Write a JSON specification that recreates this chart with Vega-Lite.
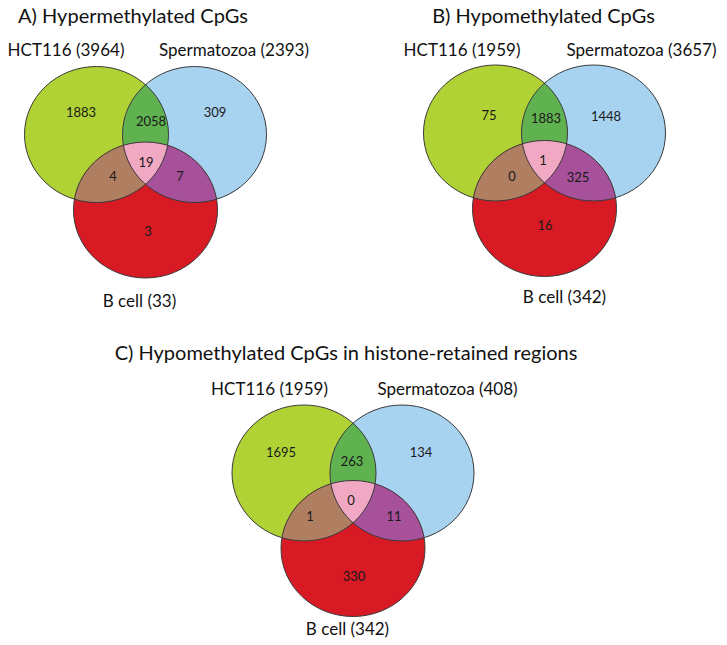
{
  "$schema": "https://vega.github.io/schema/vega-lite/v6.json",
  "width": 727,
  "height": 645,
  "autosize": {"type": "fit", "contains": "padding"},
  "padding": 0,
  "background": "white",
  "config": {"view": {"stroke": null}},
  "datasets": {
    "panels": [
      {"panel": "A", "title": "A) Hypermethylated CpGs", "ax": 145.5, "ay": 134.5, "tx": 133, "ty": 23},
      {"panel": "B", "title": "B) Hypomethylated CpGs", "ax": 544.5, "ay": 133, "tx": 543.5, "ty": 23},
      {"panel": "C", "title": "C) Hypomethylated CpGs in histone-retained regions", "ax": 353, "ay": 473, "tx": 346, "ty": 360}
    ],
    "sets": [
      {"panel": "A", "set": "HCT116", "total": 3964, "label": "HCT116 (3964)", "cx": 96.5, "cy": 134.5, "lx": 66, "ly": 56},
      {"panel": "A", "set": "Spermatozoa", "total": 2393, "label": "Spermatozoa (2393)", "cx": 194.5, "cy": 134.5, "lx": 234, "ly": 56},
      {"panel": "A", "set": "B cell", "total": 33, "label": "B cell (33)", "cx": 145.5, "cy": 210, "lx": 139.5, "ly": 307},
      {"panel": "B", "set": "HCT116", "total": 1959, "label": "HCT116 (1959)", "cx": 495.5, "cy": 133, "lx": 462, "ly": 56},
      {"panel": "B", "set": "Spermatozoa", "total": 3657, "label": "Spermatozoa (3657)", "cx": 593.5, "cy": 133, "lx": 641.5, "ly": 56},
      {"panel": "B", "set": "B cell", "total": 342, "label": "B cell (342)", "cx": 544.5, "cy": 208.5, "lx": 564.5, "ly": 303},
      {"panel": "C", "set": "HCT116", "total": 1959, "label": "HCT116 (1959)", "cx": 304, "cy": 473, "lx": 269.5, "ly": 395},
      {"panel": "C", "set": "Spermatozoa", "total": 408, "label": "Spermatozoa (408)", "cx": 402, "cy": 473, "lx": 447.5, "ly": 395},
      {"panel": "C", "set": "B cell", "total": 342, "label": "B cell (342)", "cx": 353, "cy": 548.5, "lx": 347.5, "ly": 635}
    ],
    "regions": [
      {"panel": "A", "region": "HCT116 only", "count": 1883, "x": 81, "y": 113},
      {"panel": "A", "region": "HCT116 & Spermatozoa", "count": 2058, "x": 151, "y": 122},
      {"panel": "A", "region": "Spermatozoa only", "count": 309, "x": 215, "y": 113},
      {"panel": "A", "region": "All three", "count": 19, "x": 146, "y": 163},
      {"panel": "A", "region": "HCT116 & B cell", "count": 4, "x": 113, "y": 177},
      {"panel": "A", "region": "Spermatozoa & B cell", "count": 7, "x": 180, "y": 177},
      {"panel": "A", "region": "B cell only", "count": 3, "x": 148, "y": 232},
      {"panel": "B", "region": "HCT116 only", "count": 75, "x": 489, "y": 116},
      {"panel": "B", "region": "HCT116 & Spermatozoa", "count": 1883, "x": 546, "y": 119},
      {"panel": "B", "region": "Spermatozoa only", "count": 1448, "x": 606, "y": 117},
      {"panel": "B", "region": "All three", "count": 1, "x": 543, "y": 161},
      {"panel": "B", "region": "HCT116 & B cell", "count": 0, "x": 512, "y": 177},
      {"panel": "B", "region": "Spermatozoa & B cell", "count": 325, "x": 578, "y": 178},
      {"panel": "B", "region": "B cell only", "count": 16, "x": 545, "y": 226},
      {"panel": "C", "region": "HCT116 only", "count": 1695, "x": 281, "y": 453},
      {"panel": "C", "region": "HCT116 & Spermatozoa", "count": 263, "x": 352, "y": 462},
      {"panel": "C", "region": "Spermatozoa only", "count": 134, "x": 421, "y": 453},
      {"panel": "C", "region": "All three", "count": 0, "x": 351, "y": 501},
      {"panel": "C", "region": "HCT116 & B cell", "count": 1, "x": 310, "y": 517},
      {"panel": "C", "region": "Spermatozoa & B cell", "count": 11, "x": 394, "y": 517},
      {"panel": "C", "region": "B cell only", "count": 330, "x": 354, "y": 577}
    ]
  },
  "layer": [
    {
      "data": {"name": "sets"},
      "mark": {"type": "point", "shape": "M-1,0A1,0.9444,0,1,1,1,0A1,0.9444,0,1,1,-1,0Z", "size": 20736, "filled": true, "opacity": 1, "strokeWidth": 0},
      "encoding": {
        "x": {"field": "cx", "type": "quantitative", "scale": {"domain": [0, 727], "nice": false, "zero": false}, "axis": null},
        "y": {"field": "cy", "type": "quantitative", "scale": {"domain": [0, 645], "nice": false, "zero": false, "reverse": true}, "axis": null},
        "color": {"field": "set", "type": "nominal", "scale": {"domain": ["HCT116", "Spermatozoa", "B cell"], "range": ["#b1d235", "#a8d3f0", "#d71a24"]}, "legend": null}
      }
    },
    {
      "data": {"name": "panels"},
      "mark": {"type": "point", "shape": "M0,-0.692A1,0.9444,0,0,1,0,0.692A1,0.9444,0,0,1,0,-0.692Z", "size": 20736, "filled": true, "opacity": 1, "strokeWidth": 0, "color": "#60b14f"},
      "encoding": {
        "x": {"field": "ax", "type": "quantitative"},
        "y": {"field": "ay", "type": "quantitative"}
      }
    },
    {
      "data": {"name": "panels"},
      "mark": {"type": "point", "shape": "M0.3067,0.1498A1,0.9444,0,0,1,-0.9873,0.8989A1,0.9444,0,0,1,0.3067,0.1498Z", "size": 20736, "filled": true, "opacity": 1, "strokeWidth": 0, "color": "#b07e61"},
      "encoding": {
        "x": {"field": "ax", "type": "quantitative"},
        "y": {"field": "ay", "type": "quantitative"}
      }
    },
    {
      "data": {"name": "panels"},
      "mark": {"type": "point", "shape": "M0.9873,0.8989A1,0.9444,0,0,1,-0.3067,0.1498A1,0.9444,0,0,1,0.9873,0.8989Z", "size": 20736, "filled": true, "opacity": 1, "strokeWidth": 0, "color": "#a6519a"},
      "encoding": {
        "x": {"field": "ax", "type": "quantitative"},
        "y": {"field": "ay", "type": "quantitative"}
      }
    },
    {
      "data": {"name": "panels"},
      "mark": {"type": "point", "shape": "M-0.3067,0.1498A1,0.9444,0,0,1,0.3067,0.1498A1,0.9444,0,0,1,0,0.692A1,0.9444,0,0,1,-0.3067,0.1498Z", "size": 20736, "filled": true, "opacity": 1, "strokeWidth": 0, "color": "#f1a8c2"},
      "encoding": {
        "x": {"field": "ax", "type": "quantitative"},
        "y": {"field": "ay", "type": "quantitative"}
      }
    },
    {
      "data": {"name": "sets"},
      "mark": {"type": "point", "shape": "M-1,0A1,0.9444,0,1,1,1,0A1,0.9444,0,1,1,-1,0Z", "size": 20736, "filled": false, "opacity": 1, "strokeWidth": 1, "color": "#3a3a3a"},
      "encoding": {
        "x": {"field": "cx", "type": "quantitative"},
        "y": {"field": "cy", "type": "quantitative"}
      }
    },
    {
      "data": {"name": "regions"},
      "mark": {"type": "text", "font": "Lato", "fontSize": 13, "color": "#1a1a1a", "baseline": "middle", "align": "center"},
      "encoding": {
        "x": {"field": "x", "type": "quantitative"},
        "y": {"field": "y", "type": "quantitative"},
        "text": {"field": "count", "type": "quantitative"}
      }
    },
    {
      "data": {"name": "sets"},
      "mark": {"type": "text", "font": "Lato", "fontSize": 17, "color": "#111111", "baseline": "alphabetic", "align": "center"},
      "encoding": {
        "x": {"field": "lx", "type": "quantitative"},
        "y": {"field": "ly", "type": "quantitative"},
        "text": {"field": "label", "type": "nominal"}
      }
    },
    {
      "data": {"name": "panels"},
      "mark": {"type": "text", "font": "Lato", "fontSize": 20, "color": "#111111", "baseline": "alphabetic", "align": "center"},
      "encoding": {
        "x": {"field": "tx", "type": "quantitative"},
        "y": {"field": "ty", "type": "quantitative"},
        "text": {"field": "title", "type": "nominal"}
      }
    }
  ]
}
